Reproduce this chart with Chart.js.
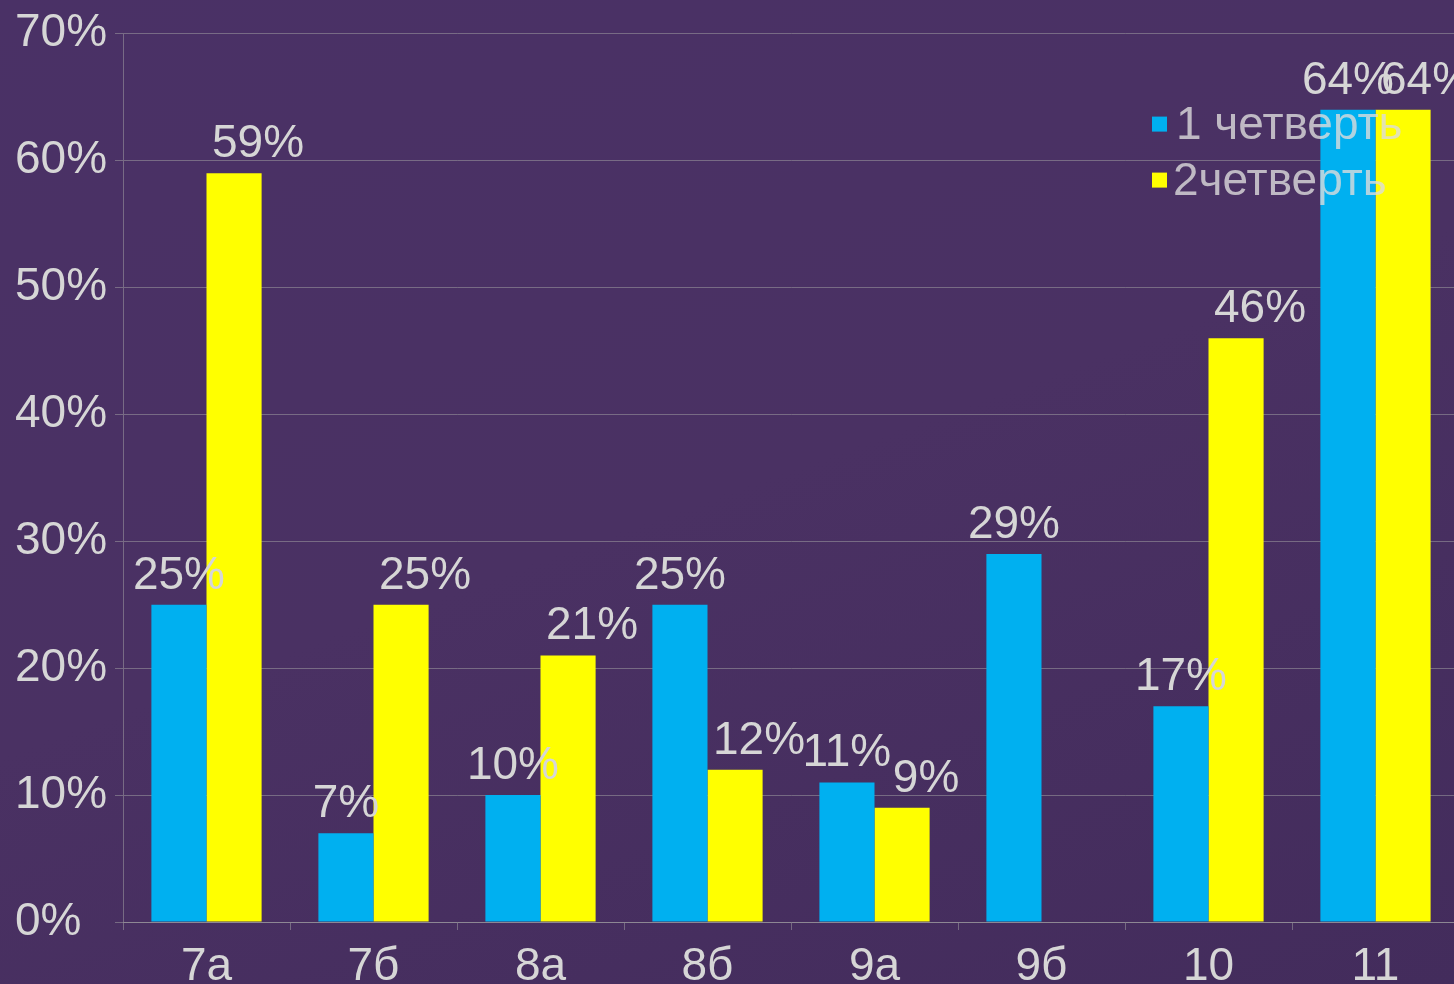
<!DOCTYPE html>
<html>
<head>
<meta charset="utf-8">
<script src="https://cdn.jsdelivr.net/npm/chart.js@4.4.0/dist/chart.umd.min.js"></script>
<style>
  html, body { margin: 0; padding: 0; overflow: hidden; }
  body { width: 1454px; height: 984px; background: linear-gradient(160deg, #4a3166 0%, #4a3163 50%, #432c5c 100%); }
  #wrap { width: 1460px; height: 984px; position: relative; }
</style>
</head>
<body>
<div id="wrap"><canvas id="chart"></canvas></div>
<script>
// классы и результаты по четвертям
var klassy = ['7а', '7б', '8а', '8б', '9а', '9б', '10', '11'];
var chetvert1 = [25, 7, 10, 25, 11, 29, 17, 64];
var chetvert2 = [59, 25, 21, 12, 9, null, 46, 64];
var nazvaniya = ['1 четверть', '2четверть'];
var yTicks = [0, 10, 20, 30, 40, 50, 60, 70];

var textColor = '#d6d6d6';
var gridColor = 'rgba(165, 165, 165, 0.5)';
var shrift = 'Liberation Sans, Arial, sans-serif';

// подписи значений над столбцами
var podpisi = {
  id: 'podpisi',
  afterDatasetsDraw: function (chart) {
    var ctx = chart.ctx;
    ctx.save();
    ctx.font = '46px ' + shrift;
    ctx.fillStyle = textColor;
    ctx.textAlign = 'center';
    ctx.textBaseline = 'alphabetic';
    chart.data.datasets.forEach(function (ds, i) {
      var meta = chart.getDatasetMeta(i);
      var sdvig = i === 1 ? 24 : 0;
      meta.data.forEach(function (bar, j) {
        if (ds.data[j] == null) return;
        ctx.fillText(ds.data[j] + '%', bar.x + sdvig, bar.y - 16);
      });
    });
    ctx.restore();
  }
};

// легенда поверх столбцов, как в исходнике
var legenda = {
  id: 'legenda',
  afterDatasetsDraw: function (chart) {
    var ctx = chart.ctx;
    var a = chart.chartArea;
    var x = a.right - 307;
    var y = a.top + 105;
    ctx.save();
    ctx.font = '46px ' + shrift;
    ctx.textBaseline = 'alphabetic';
    chart.data.datasets.forEach(function (ds, i) {
      var yy = y + i * 56;
      ctx.fillStyle = ds.backgroundColor;
      ctx.fillRect(x, yy - 22, 15, 15);
      ctx.fillStyle = 'rgba(220, 220, 220, 0.8)';
      ctx.fillText(nazvaniya[i], x + (i === 0 ? 24 : 21), yy);
    });
    ctx.restore();
  }
};

var ctx = document.getElementById('chart').getContext('2d');
var chart = new Chart(ctx, {
  type: 'bar',
  data: {
    labels: klassy,
    datasets: [
      {
        label: nazvaniya[0],
        data: chetvert1,
        backgroundColor: '#00b0f0',
        categoryPercentage: 0.66,
        barPercentage: 1.0
      },
      {
        label: nazvaniya[1],
        data: chetvert2,
        backgroundColor: '#ffff00',
        categoryPercentage: 0.66,
        barPercentage: 1.0
      }
    ]
  },
  options: {
    responsive: true,
    maintainAspectRatio: false,
    animation: false,
    layout: { padding: { top: 32, right: 1, left: 15, bottom: 0 } },
    plugins: {
      legend: { display: false },
      tooltip: { enabled: false }
    },
    scales: {
      x: {
        grid: { drawOnChartArea: false, color: gridColor, tickLength: 8, offset: true },
        border: { color: gridColor },
        ticks: { color: textColor, font: { size: 46, family: shrift }, padding: 10 },
        afterFit: function (s) { s.height = 62; }
      },
      y: {
        min: 0,
        max: 70,
        afterBuildTicks: function (s) { s.ticks = yTicks.map(function (v) { return { value: v }; }); },
        grid: { color: gridColor, tickLength: 8 },
        border: { color: gridColor },
        ticks: {
          color: textColor,
          font: { size: 46, family: shrift },
          padding: 6,
          crossAlign: 'far',
          callback: function (v) { return v + '%'; }
        },
        afterFit: function (s) { s.width = 108; }
      }
    }
  },
  plugins: [podpisi, legenda]
});
</script>
</body>
</html>
